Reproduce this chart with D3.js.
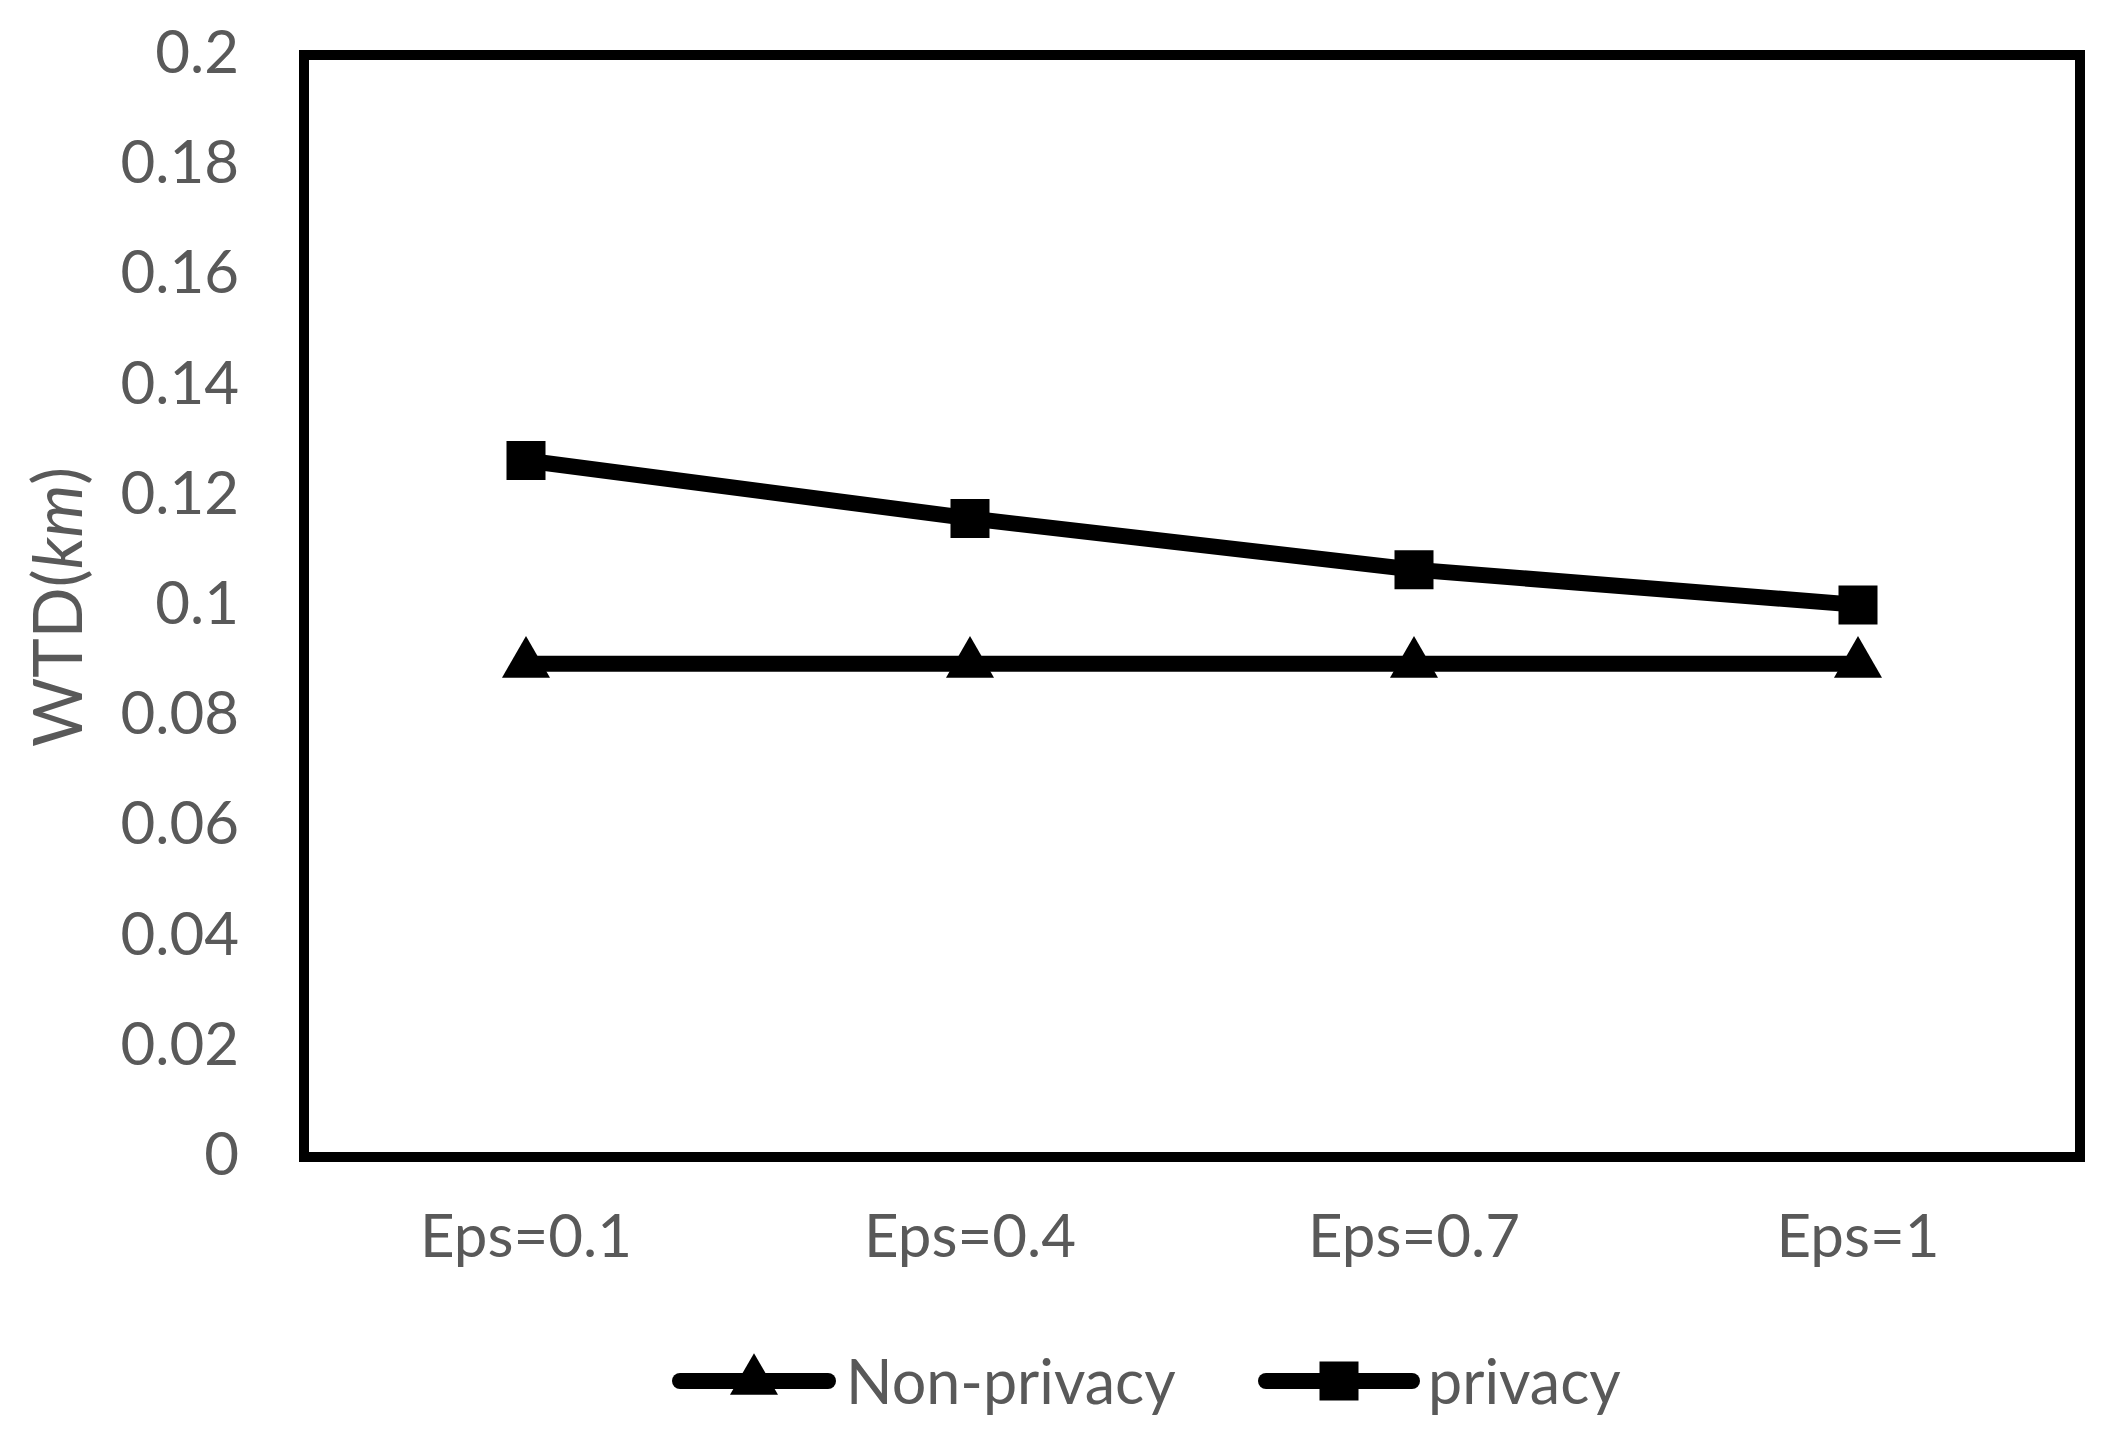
<!DOCTYPE html>
<html><head><meta charset="utf-8">
<script src="https://cdn.jsdelivr.net/npm/d3@7"></script>
<style>body{margin:0;background:#fff}svg{display:block}text{font-family:Lato,"Open Sans",sans-serif;fill:#595959}</style>
</head><body><svg id="c" width="2107" height="1429"></svg>
<script>
const categories = ["Eps=0.1","Eps=0.4","Eps=0.7","Eps=1"];
const nonPrivacy = [0.0895,0.0895,0.0895,0.0895];
const privacy = [0.1264,0.1159,0.1066,0.1002];
const yTicks = [0,0.02,0.04,0.06,0.08,0.1,0.12,0.14,0.16,0.18,0.2];
const seriesNames = ["Non-privacy","privacy"];

const svg = d3.select("#c");
const L=304,R=2080,T=55,B=1157;
const x = d3.scalePoint().domain(categories).range([L,R]).padding(0.5);
const y = d3.scaleLinear().domain([0,0.2]).range([B,T]);

// y tick labels
svg.append("g").selectAll("text").data(yTicks).join("text")
  .attr("x",239).attr("y",d=>y(d)+18).attr("text-anchor","end")
  .style("font-size","60px").text(d=>d3.format("")(+d.toFixed(2)));

// x labels
svg.append("g").selectAll("text").data(categories).join("text")
  .attr("x",d=>x(d)).attr("y",1257).attr("text-anchor","middle")
  .style("font-size","60px").text(d=>d);

// y title
const yt = svg.append("text").attr("transform","translate(82,607) rotate(-90)")
  .attr("text-anchor","middle").style("font-size","67px");
yt.append("tspan").text("WTD(");
yt.append("tspan").style("font-style","italic").text("km");
yt.append("tspan").text(")");

// plot frame
svg.append("rect").attr("x",L).attr("y",T).attr("width",R-L).attr("height",B-T)
  .attr("fill","none").attr("stroke","#000").attr("stroke-width",10);

const line = d3.line().x((d,i)=>x(categories[i])).y(d=>y(d));
const tri = d3.symbol().type(d3.symbolTriangle).size(1000);
const sq = d3.symbol().type(d3.symbolSquare).size(39*39);

function series(vals, sym){
  svg.append("path").datum(vals).attr("d",line).attr("fill","none")
    .attr("stroke","#000").attr("stroke-width",16).attr("stroke-linejoin","round");
  svg.append("g").selectAll("path").data(vals).join("path")
    .attr("transform",(d,i)=>`translate(${x(categories[i])},${y(d)})`)
    .attr("d",sym).attr("fill","#000");
}
series(nonPrivacy, tri);
series(privacy, sq);

// legend
const legend = [{name:seriesNames[0],sym:tri,x0:680,x1:828,tx:846},
                {name:seriesNames[1],sym:sq,x0:1266,x1:1412,tx:1428}];
const lg = svg.append("g").selectAll("g").data(legend).join("g");
lg.append("line").attr("x1",d=>d.x0).attr("x2",d=>d.x1).attr("y1",1381).attr("y2",1381)
  .attr("stroke","#000").attr("stroke-width",16).attr("stroke-linecap","round");
lg.append("path").attr("transform",d=>`translate(${(d.x0+d.x1)/2},1381)`).attr("d",d=>d.sym()).attr("fill","#000");
lg.append("text").attr("x",d=>d.tx).attr("y",1404).style("font-size","61px").text(d=>d.name);
</script></body></html>
